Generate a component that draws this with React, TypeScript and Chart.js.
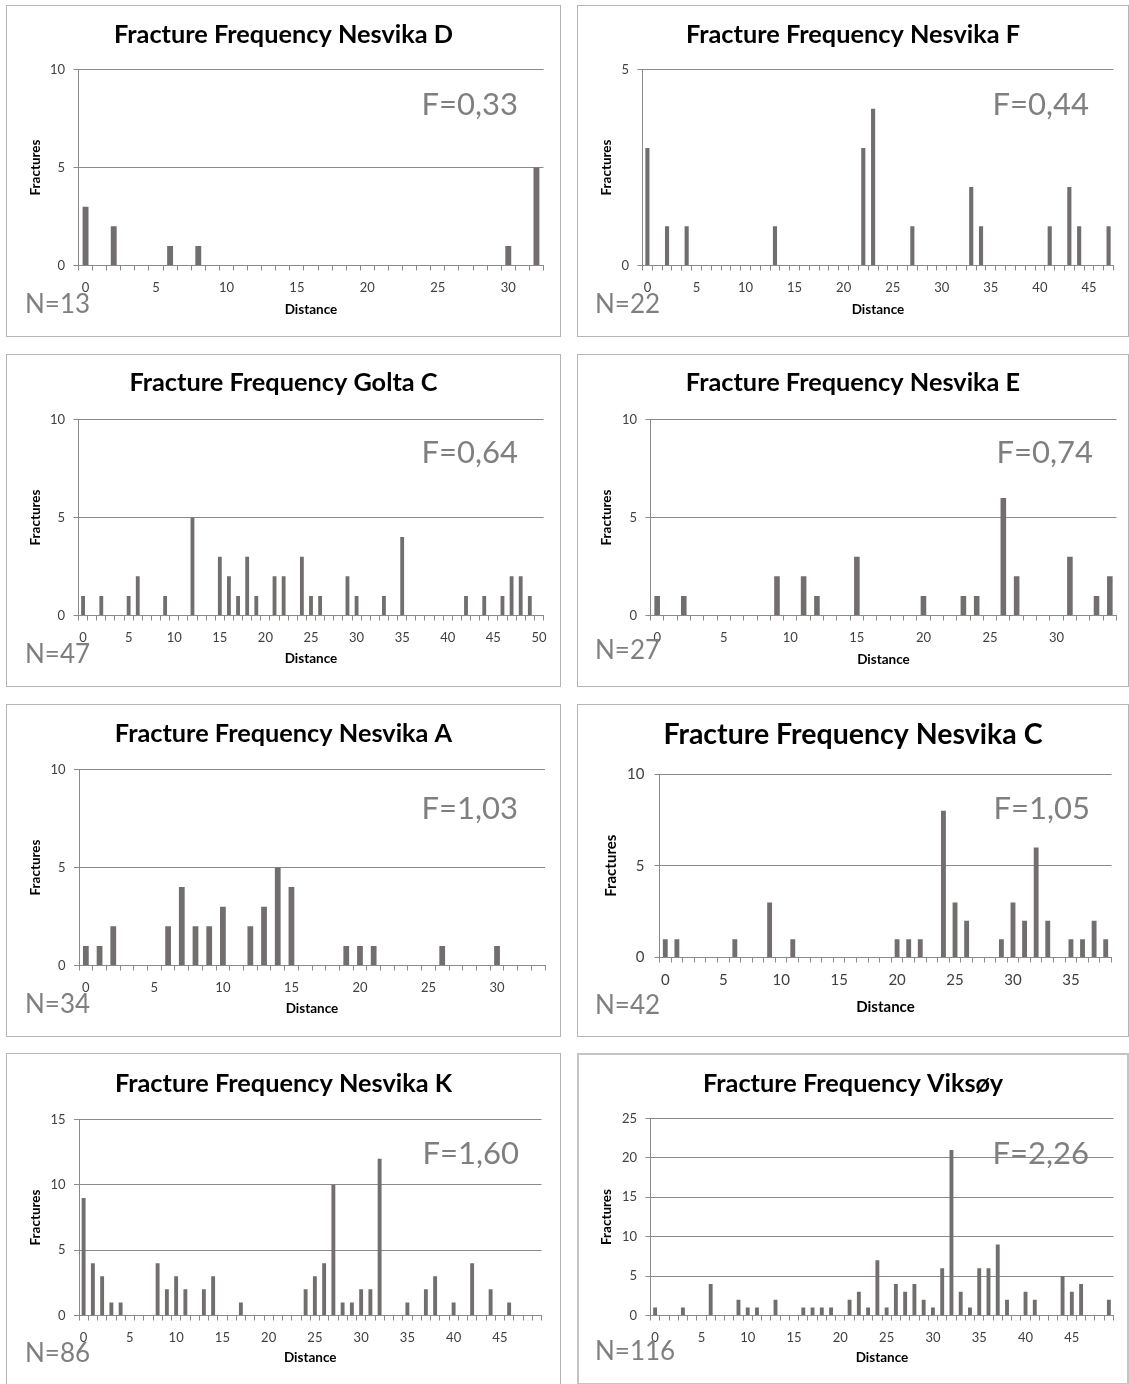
import React, { useEffect, useRef } from "react";
import { Chart, registerables } from "chart.js";

Chart.register(...registerables);

// ---- Data (fractures per metre of distance, index = distance) ----
const nesvikaD = [3, 0, 2, 0, 0, 0, 1, 0, 1, 0, 0, 0, 0, 0, 0, 0, 0, 0, 0, 0, 0, 0, 0, 0, 0, 0, 0, 0, 0, 0, 1, 0, 5];
const nesvikaF = [
  3, 0, 1, 0, 1, 0, 0, 0, 0, 0,
  0, 0, 0, 1, 0, 0, 0, 0, 0, 0,
  0, 0, 3, 4, 0, 0, 0, 1, 0, 0,
  0, 0, 0, 2, 1, 0, 0, 0, 0, 0,
  0, 1, 0, 2, 1, 0, 0, 1,
];
const goltaC = [
  1, 0, 1, 0, 0, 1, 2, 0, 0, 1,
  0, 0, 5, 0, 0, 3, 2, 1, 3, 1,
  0, 2, 2, 0, 3, 1, 1, 0, 0, 2,
  1, 0, 0, 1, 0, 4, 0, 0, 0, 0,
  0, 0, 1, 0, 1, 0, 1, 2, 2, 1, 0,
];
const nesvikaE = [
  1, 0, 1, 0, 0, 0, 0, 0, 0, 2,
  0, 2, 1, 0, 0, 3, 0, 0, 0, 0,
  1, 0, 0, 1, 1, 0, 6, 2, 0, 0,
  0, 3, 0, 1, 2,
];
const nesvikaA = [
  1, 1, 2, 0, 0, 0, 2, 4, 2, 2,
  3, 0, 2, 3, 5, 4, 0, 0, 0, 1,
  1, 1, 0, 0, 0, 0, 1, 0, 0, 0,
  1, 0, 0, 0,
];
const nesvikaC = [
  1, 1, 0, 0, 0, 0, 1, 0, 0, 3,
  0, 1, 0, 0, 0, 0, 0, 0, 0, 0,
  1, 1, 1, 0, 8, 3, 2, 0, 0, 1,
  3, 2, 6, 2, 0, 1, 1, 2, 1,
];
const nesvikaK = [
  9, 4, 3, 1, 1, 0, 0, 0, 4, 2,
  3, 2, 0, 2, 3, 0, 0, 1, 0, 0,
  0, 0, 0, 0, 2, 3, 4, 10, 1, 1,
  2, 2, 12, 0, 0, 1, 0, 2, 3, 0,
  1, 0, 4, 0, 2, 0, 1, 0, 0, 0,
];
const viksoy = [
  1, 0, 0, 1, 0, 0, 4, 0, 0, 2,
  1, 1, 0, 2, 0, 0, 1, 1, 1, 1,
  0, 2, 3, 1, 7, 1, 4, 3, 4, 2,
  1, 6, 21, 3, 1, 6, 6, 9, 2, 0,
  3, 2, 0, 0, 5, 3, 4, 0, 0, 2,
];

const titles = [
  "Fracture Frequency Nesvika D",
  "Fracture Frequency Nesvika F",
  "Fracture Frequency Golta C",
  "Fracture Frequency Nesvika E",
  "Fracture Frequency Nesvika A",
  "Fracture Frequency Nesvika C",
  "Fracture Frequency Nesvika K",
  "Fracture Frequency Viksøy",
];
const series = [nesvikaD, nesvikaF, goltaC, nesvikaE, nesvikaA, nesvikaC, nesvikaK, viksoy];
const yMaxima = [10, 5, 10, 10, 10, 10, 15, 25];
const fLabels = ["F=0,33", "F=0,44", "F=0,64", "F=0,74", "F=1,03", "F=1,05", "F=1,60", "F=2,26"];
const nLabels = ["N=13", "N=22", "N=47", "N=27", "N=34", "N=42", "N=86", "N=116"];
const xTitle = "Distance";
const yTitle = "Fractures";

// ---- Layout (page coordinates) ----
type Box = { l: number; t: number; w: number; h: number };
type Plot = { l: number; r: number; t: number; b: number };
type Layout = {
  box: Box;
  plot: Plot;
  yTitleX: number;
  distY: number;
  titleY: number;
  fPos: { x: number; y: number };
  nPos: { x: number; y: number };
  big?: boolean;
  heavy?: boolean;
};

const layouts: Layout[] = [
  { box: { l: 6, t: 5, w: 555, h: 332 }, plot: { l: 78.5, r: 543.5, t: 69.5, b: 265.5 }, yTitleX: 35.5, distY: 309.3, titleY: 35, fPos: { x: 518, y: 105 }, nPos: { x: 25, y: 305 } },
  { box: { l: 577, t: 5, w: 552, h: 332 }, plot: { l: 642.5, r: 1113.5, t: 69.5, b: 265.5 }, yTitleX: 607, distY: 309.3, titleY: 35, fPos: { x: 1089, y: 105 }, nPos: { x: 595, y: 305 } },
  { box: { l: 6, t: 354, w: 555, h: 333 }, plot: { l: 78.5, r: 543.5, t: 419.5, b: 615.5 }, yTitleX: 35.5, distY: 658.5, titleY: 383, fPos: { x: 518, y: 453 }, nPos: { x: 25, y: 655 } },
  { box: { l: 577, t: 354, w: 552, h: 333 }, plot: { l: 650.5, r: 1116.5, t: 419.5, b: 615.5 }, yTitleX: 607, distY: 659.3, titleY: 383, fPos: { x: 1093, y: 453 }, nPos: { x: 595, y: 651 } },
  { box: { l: 6, t: 704, w: 555, h: 333 }, plot: { l: 79, r: 545, t: 769.5, b: 965.5 }, yTitleX: 35.5, distY: 1009, titleY: 734, fPos: { x: 518, y: 809 }, nPos: { x: 25, y: 1005 } },
  { box: { l: 577, t: 704, w: 552, h: 333 }, plot: { l: 659.5, r: 1111.5, t: 774, b: 957.5 }, yTitleX: 611, distY: 1007, titleY: 735, fPos: { x: 1090, y: 809 }, nPos: { x: 595, y: 1006 }, big: true },
  { box: { l: 6, t: 1053, w: 555, h: 332 }, plot: { l: 79, r: 541.5, t: 1119.5, b: 1315.5 }, yTitleX: 35.5, distY: 1358, titleY: 1084, fPos: { x: 519, y: 1154 }, nPos: { x: 25, y: 1354 } },
  { box: { l: 577, t: 1053, w: 552, h: 332 }, plot: { l: 650.5, r: 1113.5, t: 1118.5, b: 1315.5 }, yTitleX: 607, distY: 1358, titleY: 1084, fPos: { x: 1089, y: 1154 }, nPos: { x: 595, y: 1352 }, heavy: true },
];

const FONT = "Lato, 'Open Sans', 'DejaVu Sans', sans-serif";
const BAR = "#726e6e";
const AXIS = "#8a8a8a";
const TICK = "#404040";
const NOTE = "#7f7f7f";

function Panel({ idx }: { idx: number }) {
  const ref = useRef<HTMLCanvasElement | null>(null);
  const lay = layouts[idx];
  useEffect(() => {
    const { box, plot } = lay;
    const big = !!lay.big;
    const tickSize = big ? 15 : 13;
    const axTitleSize = big ? 15 : 13.5;
    const titleSize = big ? 28.5 : 25.3;
    const lh = axTitleSize * 1.2;
    const tickLh = tickSize * 1.2;
    const wY = plot.l - (lay.yTitleX - lh / 2);
    const hX = lay.distY - plot.b + lh / 2;
    const padding = {
      left: plot.l - box.l - wY,
      top: plot.t - box.t,
      right: box.l + box.w - plot.r,
      bottom: box.t + box.h - plot.b - hX,
    };
    const values = series[idx];
    const labels = values.map((_, i) => String(i));
    const xPad = (big ? 22.7 : 22) - 5 - tickLh / 2;

    const overlay = {
      id: "overlay" + idx,
      afterDraw(chart: any) {
        const ctx = chart.ctx as CanvasRenderingContext2D;
        ctx.save();
        ctx.textBaseline = "middle";
        ctx.fillStyle = "#000";
        ctx.font = `bold ${titleSize}px ${FONT}`;
        ctx.textAlign = "center";
        ctx.fillText(titles[idx], box.w / 2, lay.titleY - box.t);
        ctx.fillStyle = NOTE;
        ctx.font = `31px ${FONT}`;
        ctx.textAlign = "right";
        ctx.fillText(fLabels[idx], lay.fPos.x - box.l, lay.fPos.y - box.t);
        ctx.font = `26px ${FONT}`;
        ctx.textAlign = "left";
        ctx.fillText(nLabels[idx], lay.nPos.x - box.l, lay.nPos.y - box.t);
        ctx.restore();
      },
    };

    const chart = new Chart(ref.current as HTMLCanvasElement, {
      type: "bar",
      data: {
        labels,
        datasets: [
          {
            data: values,
            backgroundColor: BAR,
            borderWidth: 0,
            barPercentage: 0.42,
            categoryPercentage: 1,
          },
        ],
      },
      options: {
        animation: false,
        responsive: false,
        devicePixelRatio: 1,
        layout: { padding },
        plugins: {
          legend: { display: false },
          tooltip: { enabled: false },
          title: { display: false },
        },
        scales: {
          x: {
            type: "category",
            offset: true,
            grid: {
              display: true,
              offset: true,
              drawOnChartArea: false,
              drawTicks: true,
              tickLength: 5,
              color: AXIS,
              lineWidth: 1,
            },
            border: { display: true, color: AXIS, width: 1 },
            ticks: {
              autoSkip: false,
              maxRotation: 0,
              minRotation: 0,
              padding: xPad,
              color: TICK,
              font: { family: FONT, size: tickSize },
              callback: (_v: any, i: number) => (i % 5 === 0 ? labels[i] : ""),
            },
            title: {
              display: true,
              text: xTitle,
              color: "#000",
              font: { family: FONT, size: axTitleSize, weight: "bold" },
              padding: 0,
            },
            afterFit: (sc: any) => {
              sc.height = hX;
            },
          },
          y: {
            min: 0,
            max: yMaxima[idx],
            ticks: {
              stepSize: 5,
              padding: big ? 10 : 8.5,
              color: TICK,
              font: { family: FONT, size: tickSize },
            },
            grid: { color: AXIS, lineWidth: 1, drawTicks: true, tickLength: 5 },
            border: { display: true, color: AXIS, width: 1 },
            title: {
              display: true,
              text: yTitle,
              color: "#000",
              font: { family: FONT, size: axTitleSize, weight: "bold" },
              padding: 0,
            },
            afterFit: (sc: any) => {
              sc.width = wY;
            },
          },
        },
      } as any,
      plugins: [overlay],
    });
    return () => chart.destroy();
  }, [idx]);

  const { box } = lay;
  return (
    <>
      <div
        style={{
          position: "absolute",
          left: box.l,
          top: box.t,
          width: box.w,
          height: box.h,
          boxSizing: "border-box",
          border: lay.heavy ? "2px solid #c4c4c4" : "1px solid #b4b4b4",
          background: "#fff",
        }}
      />
      <canvas
        ref={ref}
        width={box.w}
        height={box.h}
        style={{ position: "absolute", left: box.l, top: box.t, width: box.w, height: box.h }}
      />
    </>
  );
}

export default function App() {
  return (
    <div
      style={{
        position: "absolute",
        left: 0,
        top: 0,
        width: 1129,
        height: 1384,
        overflow: "hidden",
        background: "#fff",
      }}
    >
      {layouts.map((_, i) => (
        <Panel key={i} idx={i} />
      ))}
    </div>
  );
}
